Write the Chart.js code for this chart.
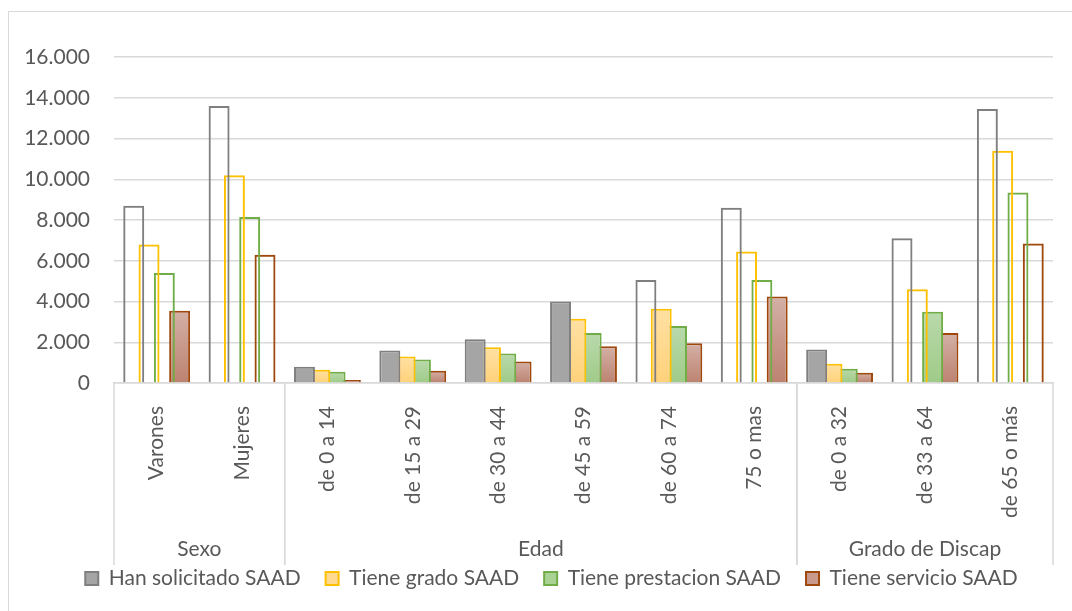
<!DOCTYPE html>
<html>
<head>
<meta charset="utf-8">
<script src="https://cdn.jsdelivr.net/npm/chart.js@4.4.1/dist/chart.umd.min.js"></script>
<style>
body { margin: 0; background: #fff; }
#wrap { position: relative; width: 1072px; height: 611px; overflow: hidden; }
#frame { position: absolute; left: 8px; top: 11px; width: 1100px; height: 700px; border-left: 1px solid #d9d9d9; border-top: 1px solid #d9d9d9; }
canvas { position: absolute; left: 0; top: 0; }
</style>
</head>
<body>
<div id="wrap">
  <div id="frame"></div>
  <canvas id="chart" width="1072" height="611"></canvas>
</div>
<script>
// categories and their groups
var categories = ['Varones', 'Mujeres', 'de 0 a 14', 'de 15 a 29', 'de 30 a 44', 'de 45 a 59',
  'de 60 a 74', '75 o mas', 'de 0 a 32', 'de 33 a 64', 'de 65 o más'];
var groups = ['Sexo', 'Edad', 'Grado de Discap'];
var groupSizes = [2, 6, 3];

// series values
var seriesNames = ['Han solicitado SAAD', 'Tiene grado SAAD', 'Tiene prestacion SAAD', 'Tiene servicio SAAD'];
var solicitado = [8700, 13600, 800, 1600, 2150, 4000, 5050, 8600, 1650, 7100, 13450];
var grado      = [6800, 10200, 650, 1300, 1750, 3150, 3650, 6450, 950, 4600, 11400];
var prestacion = [5400, 8150, 550, 1150, 1450, 2450, 2800, 5050, 700, 3500, 9350];
var servicio   = [3550, 6300, 150, 600, 1050, 1800, 1950, 4250, 500, 2450, 6850];

var yMax = 16000;
var yStep = 2000;

// styles: border, gradient top, gradient bottom, legend fill
var borders = ['#7f7f7f', '#ffc000', '#70ad47', '#9e480e'];
var fillTop = ['#a5a5a5', '#ffe0a3', '#b9d9ab', '#d4b0a6'];
var fillBottom = ['#a5a5a5', '#ffd27a', '#9fcb88', '#bc8270'];
var legendFill = ['#a5a5a5', '#ffd98f', '#abd295', '#c99a8b'];
var textColor = '#595959';
var fontFamily = 'Lato, "Open Sans", sans-serif';
var fontSize = 21;

// tall bars are drawn only as an outline in the original
function barFill(i) {
  return function(ctx) {
    var chart = ctx.chart;
    var v = ctx.raw;
    if (!chart.chartArea || typeof v !== 'number') return 'rgba(255,255,255,0)';
    if (v > 4500) return 'rgba(255,255,255,0)';
    var y = chart.scales.y;
    var g = chart.ctx.createLinearGradient(0, y.getPixelForValue(v), 0, y.getPixelForValue(0));
    g.addColorStop(0, fillTop[i]);
    g.addColorStop(1, fillBottom[i]);
    return g;
  };
}

var values = [solicitado, grado, prestacion, servicio];
var datasets = [];
for (var i = 0; i < values.length; i++) {
  datasets.push({
    label: seriesNames[i],
    data: values[i],
    borderColor: borders[i],
    backgroundColor: barFill(i),
    borderWidth: 2,
    categoryPercentage: 0.717,
    barPercentage: 1.37
  });
}

function formatThousands(v) {
  return String(v).replace(/\B(?=(\d{3})+(?!\d))/g, '.');
}

// draws the second level of the category axis
var groupAxis = {
  id: 'groupAxis',
  afterLayout: function(chart) {
    // legend sits a little right of centre in the original
    chart.legend.left += 21;
    chart.legend.right += 21;
  },
  afterDraw: function(chart) {
    var x = chart.scales.x;
    var ctx = chart.ctx;
    var top = chart.chartArea.bottom;
    var bottom = 565;
    var half = (x.getPixelForValue(1) - x.getPixelForValue(0)) / 2;
    ctx.save();
    ctx.strokeStyle = '#d9d9d9';
    ctx.lineWidth = 1.5;
    ctx.fillStyle = textColor;
    ctx.font = fontSize + 'px ' + fontFamily;
    ctx.textAlign = 'center';
    ctx.textBaseline = 'middle';
    var start = 0;
    for (var g = 0; g < groups.length; g++) {
      var left = x.getPixelForValue(start) - half;
      var right = x.getPixelForValue(start + groupSizes[g] - 1) + half;
      ctx.beginPath();
      ctx.moveTo(left, top);
      ctx.lineTo(left, bottom);
      ctx.moveTo(right, top);
      ctx.lineTo(right, bottom);
      ctx.stroke();
      ctx.fillText(groups[g], (left + right) / 2, 549);
      start += groupSizes[g];
    }
    ctx.restore();
  }
};

var ctx = document.getElementById('chart').getContext('2d');
var chart = new Chart(ctx, {
  type: 'bar',
  data: { labels: categories, datasets: datasets },
  options: {
    responsive: false,
    animation: false,
    layout: { padding: { left: 8, right: 19, top: 57, bottom: 12 } },
    scales: {
      x: {
        grid: { display: false },
        border: { display: true, color: '#d9d9d9', width: 1.5 },
        ticks: {
          color: textColor,
          font: { family: fontFamily, size: fontSize },
          minRotation: 90,
          maxRotation: 90,
          autoSkip: false,
          padding: 15
        },
        afterFit: function(s) { s.height = 160; }
      },
      y: {
        min: 0,
        max: yMax,
        ticks: {
          stepSize: yStep,
          color: textColor,
          font: { family: fontFamily, size: fontSize },
          padding: 24,
          callback: function(v) { return formatThousands(v); }
        },
        grid: { color: '#d9d9d9', lineWidth: 1.5, drawTicks: false },
        border: { display: false },
        afterFit: function(s) { s.width = 106; }
      }
    },
    plugins: {
      tooltip: { enabled: false },
      legend: {
        position: 'bottom',
        labels: {
          color: textColor,
          font: { family: fontFamily, size: fontSize },
          boxWidth: 13,
          boxHeight: 13,
          padding: 25,
          generateLabels: function(chart) {
            return seriesNames.map(function(name, i) {
              return {
                text: name,
                fillStyle: legendFill[i],
                strokeStyle: borders[i],
                lineWidth: 2,
                fontColor: textColor,
                datasetIndex: i
              };
            });
          }
        }
      }
    }
  },
  plugins: [groupAxis]
});
</script>
</body>
</html>
